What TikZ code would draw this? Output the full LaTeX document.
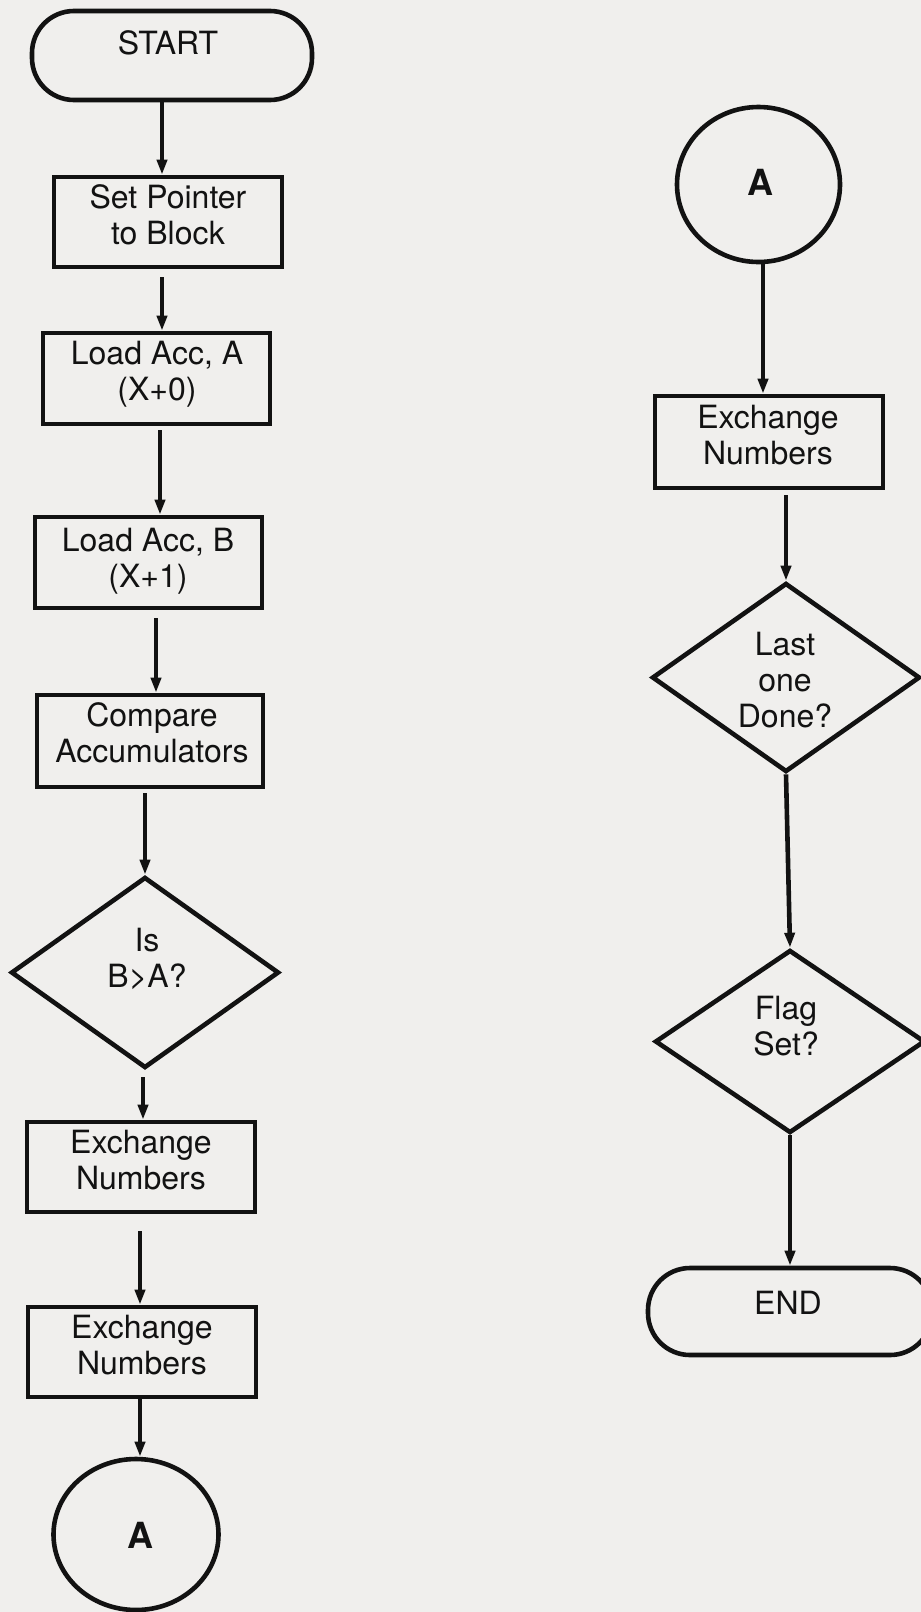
\documentclass[tikz,border=0pt]{standalone}
\usepackage{fontspec}
\setmainfont{TeX Gyre Heros}
\usetikzlibrary{shapes.geometric,arrows.meta,calc}
\definecolor{bg}{RGB}{240,239,237}
\definecolor{ink}{RGB}{18,18,18}
\newcommand\flowarrow[4]{\draw[arr] ($(#2.north |- #1.south)+(#3,#4)$) -- ($(#2.north)+(#3,0)$);}
\begin{document}
\begin{tikzpicture}[x=0.5pt,y=-0.5pt,
  shp/.style={draw=ink, line width=2.3pt, inner sep=0pt},
  box/.style={shp, rectangle},
  term/.style={shp, rectangle, rounded corners=21pt},
  dec/.style={shp, diamond},
  conn/.style={shp, ellipse},
  txt/.style={text=ink, align=center, inner sep=0pt, font=\fontsize{16}{18}\selectfont},
  big/.style={text=ink, inner sep=0pt, font=\fontsize{18}{20}\selectfont\bfseries},
  arr/.style={draw=ink, line width=2.3pt, -{Triangle[length=7.5pt,width=5pt]}}
]
\useasboundingbox (0,0) rectangle (921,1612);
\clip (0,0) rectangle (921,1612);
\fill[bg] (0,0) rectangle (921,1612);

% shapes
\node[term, minimum width=140pt, minimum height=44.5pt] (start) at (172,55.5) {};
\node[box, minimum width=114pt, minimum height=45pt] (setp) at (168,222) {};
\node[box, minimum width=113.5pt, minimum height=45.5pt] (loada) at (156.5,378.5) {};
\node[box, minimum width=113.5pt, minimum height=45.5pt] (loadb) at (148.5,562.5) {};
\node[box, minimum width=113pt, minimum height=46pt] (cmp) at (150,741) {};
\node[dec, minimum width=134pt, minimum height=95.5pt] (isba) at (145,972.5) {};
\node[box, minimum width=114pt, minimum height=45pt] (exa) at (141,1167) {};
\node[box, minimum width=114pt, minimum height=45pt] (exb) at (142,1352) {};
\node[conn, minimum width=82.5pt, minimum height=75.5pt] (conA) at (136,1534.5) {};
\node[conn, minimum width=81.5pt, minimum height=77.5pt] (conB) at (758.5,184.5) {};
\node[box, minimum width=114pt, minimum height=46pt] (exc) at (769,442) {};
\node[dec, minimum width=134pt, minimum height=94.5pt] (last) at (786,677.5) {};
\node[dec, minimum width=135pt, minimum height=91.5pt] (flag) at (790,1041.5) {};
\node[term, minimum width=142pt, minimum height=43.5pt] (end) at (790,1311.5) {};

% texts
\node[txt] (tstart) at (168,43) {START};
\node[txt] (tsetp) at (168,215) {Set Pointer\\to Block};
\node[txt] (tloada) at (157,374) {Load Acc, A\\(X+0)};
\node[txt] (tloadb) at (148,561) {Load Acc, B\\(X+1)};
\node[txt] (tcmp) at (152,732.5) {Compare\\Accumulators};
\node[txt] (tisba) at (147,958.5) {Is\\B>A?};
\node[txt] (texa) at (141,1160.5) {Exchange\\Numbers};
\node[txt] (texb) at (142,1345.5) {Exchange\\Numbers};
\node[big] (tconA) at (140,1535) {A};
\node[big] (tconB) at (760,182) {A};
\node[txt] (texc) at (768,435) {Exchange\\Numbers};
\node[txt] (tlast) at (785,680) {Last\\one\\Done?};
\node[txt] (tflag) at (786,1026.5) {Flag\\Set?};
\node[txt] (tend) at (788,1303) {END};

% connectors
\flowarrow{start}{setp}{-6}{0}
\flowarrow{setp}{loada}{5.5}{8}
\flowarrow{loada}{loadb}{11.5}{4}
\flowarrow{loadb}{cmp}{6}{8}
\flowarrow{cmp}{isba}{0}{4}
\flowarrow{isba}{exa}{2}{7}
\flowarrow{exa}{exb}{-2}{17}
\flowarrow{exb}{conA}{4}{0}
\flowarrow{conB}{exc}{-6}{0}
\flowarrow{exc}{last}{0}{5}
\draw[arr] (last.south) -- (flag.north);
\flowarrow{flag}{end}{0}{0}
\end{tikzpicture}
\end{document}
